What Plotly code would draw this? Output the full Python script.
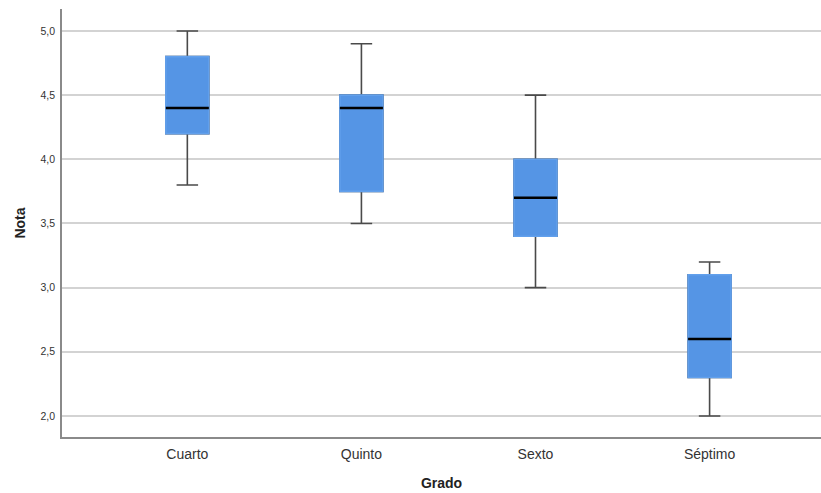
import plotly.graph_objects as go

categories = ["Cuarto", "Quinto", "Sexto", "Séptimo"]
lower = [3.8, 3.5, 3.0, 2.0]
q1 = [4.2, 3.75, 3.4, 2.3]
median = [4.4, 4.4, 3.7, 2.6]
q3 = [4.8, 4.5, 4.0, 3.1]
upper = [5.0, 4.9, 4.5, 3.2]
y_ticks = [2.0, 2.5, 3.0, 3.5, 4.0, 4.5, 5.0]

BLUE = "#5595e5"
BOX_W = 0.247

fig = go.Figure()
# whiskers
fig.add_trace(go.Box(
    x=categories, q1=q1, median=median, q3=q3,
    lowerfence=lower, upperfence=upper,
    fillcolor=BLUE, line=dict(color="#4a4a4a", width=1.6),
    whiskerwidth=0.5, width=BOX_W, boxpoints=False,
    hoverinfo="skip", showlegend=False))
# box body (covers outline)
fig.add_trace(go.Box(
    x=categories, q1=q1, median=median, q3=q3,
    lowerfence=q1, upperfence=q3,
    fillcolor=BLUE, line=dict(color="#62a0ec", width=1.6),
    whiskerwidth=0.0, width=BOX_W, boxpoints=False,
    hoverinfo="skip", showlegend=False))
# median line
fig.add_trace(go.Box(
    x=categories, q1=median, median=median, q3=median,
    lowerfence=median, upperfence=median,
    fillcolor="black", line=dict(color="black", width=2.4),
    whiskerwidth=0.0, width=BOX_W, boxpoints=False,
    hoverinfo="skip", showlegend=False))

fig.update_layout(
    width=821, height=493,
    margin=dict(l=62, r=0, t=9, b=56),
    paper_bgcolor="white", plot_bgcolor="white",
    separators=",.",
    font=dict(family="Liberation Sans, Arial, sans-serif", color="#333333"),
    boxmode="overlay",
    showlegend=False,
)
fig.update_xaxes(
    type="category",
    range=[-0.72, 3.64],
    automargin=False,
    showline=True, linecolor="#8a8a8a", linewidth=1.5,
    showgrid=False, zeroline=False,
    ticks="outside", ticklen=3, tickcolor="rgba(0,0,0,0)",
    tickfont=dict(size=14, color="#333333"),
    title=dict(text="<b>Grado</b>", font=dict(size=14, color="#222222"), standoff=18),
)
fig.update_yaxes(
    range=[1.836, 5.171],
    tickvals=y_ticks, tickformat=".1f",
    automargin=False,
    showline=True, linecolor="#8a8a8a", linewidth=1.5,
    showgrid=True, gridcolor="#d3d3d3", gridwidth=1.5,
    zeroline=False,
    ticks="outside", ticklen=3, tickcolor="rgba(0,0,0,0)",
    tickfont=dict(size=10.5, color="#333333"),
    title=dict(text="<b>Nota</b>", font=dict(size=14, color="#222222"), standoff=12),
)

fig.write_html(
    "out.html",
    config={"displayModeBar": False},
    post_script="document.body.style.margin='0';document.body.style.overflow='hidden';",
)
